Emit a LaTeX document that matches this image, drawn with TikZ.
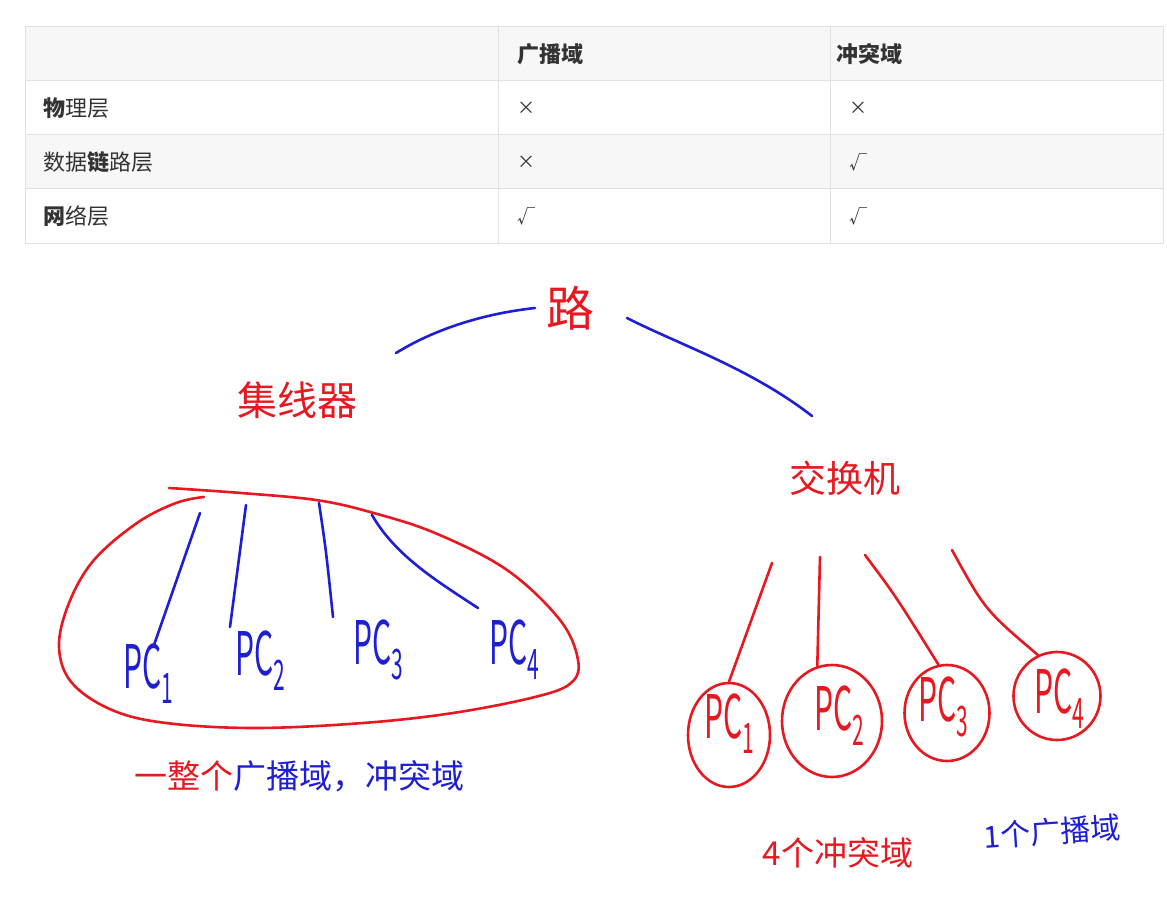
\documentclass[tikz,border=0pt]{standalone}
\usepackage{fontspec}
\usepackage{xcolor}
\usetikzlibrary{shapes.geometric}
\newfontfamily\cjk{Noto Sans CJK SC}
\definecolor{inkred}{RGB}{232,24,32}
\definecolor{inkblue}{RGB}{30,30,212}
\definecolor{rule}{RGB}{223,226,229}
\definecolor{headbg}{RGB}{247,247,247}
\definecolor{txt}{RGB}{51,51,51}
\newcommand{\pcname}[1]{\scalebox{0.5}[1]{PC\raisebox{-0.25em}{\scalebox{0.7}{#1}}}}

\begin{document}
\begin{tikzpicture}[x=1pt,y=-1pt,
  cell/.style={anchor=west,inner sep=0pt,text=txt,font=\cjk\fontsize{22}{22}\selectfont},
  tick/.style={anchor=west,inner sep=0pt,text=txt,font=\cjk\fontsize{18}{18}\selectfont},
  redpen/.style={draw=inkred,line width=2.6pt,line cap=round,line join=round},
  bluepen/.style={draw=inkblue,line width=2.6pt,line cap=round,line join=round},
  pc/.style={inner sep=0pt,font=\cjk\fontsize{60}{60}\selectfont},
  word/.style={inner sep=0pt}]
\useasboundingbox (0,0) rectangle (1167,920);
\fill[white] (0,0) rectangle (1167,920);

% table
\fill[headbg] (25,27) rectangle (1163,81);
\fill[headbg] (25,135) rectangle (1163,189);
\foreach \y in {81,135,189} \draw[rule,line width=1pt] (25,\y) -- (1163,\y);
\foreach \x in {498,830} \draw[rule,line width=1pt] (\x,27) -- (\x,243);
\draw[rule,line width=1pt] (25,27) rectangle (1163,243);

\node[cell] (bcast) at (517,54) {\bfseries 广播域};
\node[cell] (coll) at (836,54) {\bfseries 冲突域};
\node[cell] (phy) at (43,108) {\textbf{物}理层};
\node[cell] (link) at (43,162) {数据\textbf{链}路层};
\node[cell] (net) at (43,216) {\textbf{网}络层};
\node[tick] (phyb) at (517,108) {×};
\node[tick] (phyc) at (849,108) {×};
\node[tick] (linkb) at (517,162) {×};
\node[tick] (linkc) at (849,162) {√};
\node[tick] (netb) at (517,216) {√};
\node[tick] (netc) at (849,216) {√};

% sketch: router, hub, switch
\node[word,text=inkred,font=\cjk\fontsize{48}{48}\selectfont] (router) at (570,308) {路};
\node[word,text=inkred,font=\cjk\fontsize{40}{40}\selectfont] (hub) at (297,400) {集线器};
\node[word,text=inkred,font=\cjk\fontsize{37}{37}\selectfont] (switch) at (845,478) {交换机};

\coordinate (rl) at (535,308);
\coordinate (rr) at (627,318);
\coordinate (hubtop) at (396,353);
\coordinate (swtop) at (812,416);
\draw[bluepen] (hubtop) .. controls (440,326) and (490,313) .. (rl);
\draw[bluepen] (rr) .. controls (680,345) and (750,368) .. (swtop);

% hub side: one big domain
\draw[redpen] plot[smooth,tension=0.6] coordinates {(169,488) (241,493) (316,500) (370,512)
  (435,533) (507,570) (560,620) (578,660) (571,683) (535,697) (453,713) (363,723)
  (255,728) (166,723) (112,710) (72,683) (59,647) (69,603) (94,560) (137,523)
  (176,503) (204,497)};

\node[pc,text=inkblue] (hpc1) at (148,674) {\pcname{1}};
\node[pc,text=inkblue] (hpc2) at (260,661) {\pcname{2}};
\node[pc,text=inkblue] (hpc3) at (378,650) {\pcname{3}};
\node[pc,text=inkblue] (hpc4) at (514,650) {\pcname{4}};

\coordinate (h1) at (200,513);
\coordinate (h2) at (246,505);
\coordinate (h3) at (319,503);
\coordinate (h4) at (372,515);
\draw[bluepen] (h1) -- (154,645);
\draw[bluepen] (h2) -- (230,627);
\draw[bluepen] (h3) .. controls (326,550) .. (333,617);
\draw[bluepen] (h4) .. controls (395,555) and (435,580) .. (478,608);

\node[word,font=\cjk\fontsize{33}{33}\selectfont] (hubnote) at (299,776)
  {\textcolor{inkred}{一整个}\textcolor{inkblue}{广播域，冲突域}};

% switch side: one domain per port
\node[draw=inkred,line width=2.6pt,ellipse,minimum width=82,minimum height=104,inner sep=0pt] (c1) at (729,735) {};
\node[draw=inkred,line width=2.6pt,ellipse,minimum width=100,minimum height=112,inner sep=0pt] (c2) at (832,721) {};
\node[draw=inkred,line width=2.6pt,ellipse,minimum width=85,minimum height=96,inner sep=0pt] (c3) at (947,713) {};
\node[draw=inkred,line width=2.6pt,ellipse,minimum width=87,minimum height=88,inner sep=0pt] (c4) at (1057,696) {};

\node[pc,text=inkred] (spc1) at (729,724) {\pcname{1}};
\node[pc,text=inkred] (spc2) at (839,716) {\pcname{2}};
\node[pc,text=inkred] (spc3) at (943,707) {\pcname{3}};
\node[pc,text=inkred] (spc4) at (1059,699) {\pcname{4}};

\coordinate (s1) at (772,563);
\coordinate (s2) at (820,557);
\coordinate (s3) at (865,555);
\coordinate (s4) at (952,550);
\draw[redpen] (s1) -- (c1.north);
\draw[redpen] (s2) -- (c2.105);
\draw[redpen] (s3) .. controls (895,595) .. (c3.100);
\draw[redpen] (s4) .. controls (985,610) .. (c4.115);

\node[word,text=inkred,font=\cjk\fontsize{33}{33}\selectfont] (collnote) at (838,853) {4个冲突域};
\node[word,text=inkblue,font=\cjk\fontsize{30}{30}\selectfont,rotate=4] (bcastnote) at (1052,832) {1个广播域};
\end{tikzpicture}
\end{document}
